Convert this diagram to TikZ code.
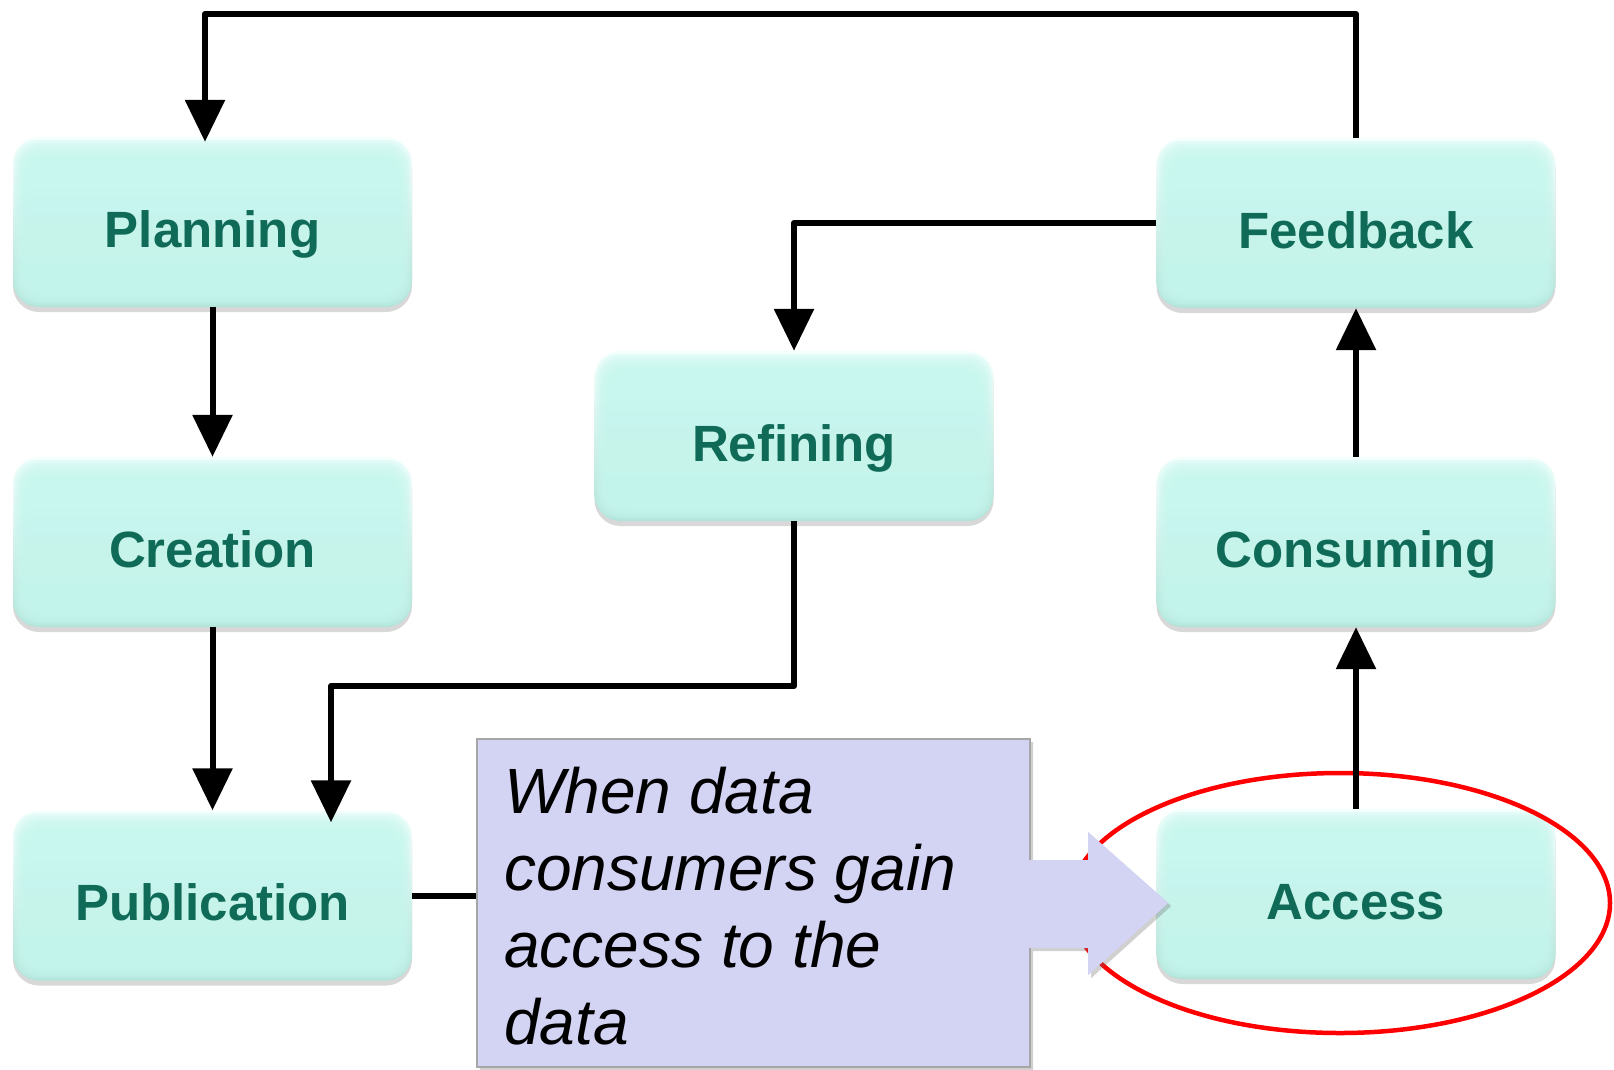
\documentclass[tikz,border=0pt]{standalone}
\usepackage{fontspec}
\setmainfont{Liberation Sans}
\usetikzlibrary{arrows.meta,shadows,calc}

\definecolor{boxmint}{HTML}{C6F7EE}
\definecolor{boxedge}{HTML}{B2E4DA}
\definecolor{boxtop}{HTML}{F4FFFD}
\definecolor{labelgreen}{HTML}{0F6B57}
\definecolor{notefill}{HTML}{D3D3F3}
\definecolor{noteline}{HTML}{A6A6A6}

\tikzset{
  stage/.style={
    rounded corners=26pt, minimum width=399pt, minimum height=170pt, inner sep=0pt,
    top color=boxtop, bottom color=boxedge,
    drop shadow={shadow xshift=0pt, shadow yshift=-5pt, opacity=0.25, fill=black!60},
    path picture={
      \foreach \i in {1,...,7} {
        \fill[boxmint, opacity=0.32, rounded corners=22pt]
          ([shift={(2*\i pt,-3*\i pt)}]path picture bounding box.north west) rectangle
          ([shift={(-2*\i pt,2*\i pt)}]path picture bounding box.south east);
      }},
    font=\fontsize{51}{60}\selectfont\bfseries, text=labelgreen,
    text height=50.5pt, text depth=0pt},
  flow/.style={line width=6pt, line join=round, -{Triangle[length=42pt,width=39pt]}},
  notebox/.style={minimum width=553pt, minimum height=328pt, inner sep=0pt},
  notetext/.style={font=\fontsize{64}{77}\selectfont\itshape, align=left, inner sep=0pt},
}

\begin{document}
\begin{tikzpicture}[x=1pt,y=-1pt]
  \useasboundingbox (0,0) rectangle (1614,1069);
  \fill[white] (0,0) rectangle (1614,1069);

  % lifecycle stages
  \node[stage] (Planning)    at (212.5,222) {Planning};
  \node[stage] (Creation)    at (212.5,542) {Creation};
  \node[stage] (Publication) at (212.5,895.5) {Publication};
  \node[stage] (Refining)    at (794,436)   {Refining};
  \node[stage] (Feedback)    at (1356,223)  {Feedback};
  \node[stage] (Consuming)   at (1356,542)  {Consuming};
  \node[stage] (Access)      at (1356,894)  {Access};

  % highlight ring around the access stage
  \draw[red, line width=4.5pt] (1340,903) ellipse [x radius=270pt, y radius=130pt];

  % flow between stages
  \draw[flow] (Planning) -- (Creation);
  \draw[flow] (Creation) -- (Publication);
  \draw[flow] (Access) -- (Consuming);
  \draw[flow] (Consuming) -- (Feedback);
  \draw[flow] (Feedback.west) -| (Refining.north);

  \coordinate (loopR) at (1356,14);
  \coordinate (loopL) at (205,14);
  \draw[flow, shorten >=-5pt] (Feedback.north) -- (loopR) -- (loopL) -- ([xshift=-7.5pt]Planning.north);

  \coordinate (bend) at (331,686);
  \draw[flow, shorten >=-12pt] (Refining.south) |- (bend) -- (bend |- Publication.north);

  % explanatory callout
  \node[notebox] (note) at (753.5,903) {};
  \draw[line width=6pt] (Publication.east) -- (Publication.east -| note.west);

  \fill[notefill, drop shadow={shadow xshift=3pt, shadow yshift=-3pt, opacity=0.3, fill=black!60}]
    (note.north west) -- (note.north east) -- ($(note.east)+(0,-43)$) -- ($(note.east)+(58,-43)$)
    -- ($(note.east)+(58,-71)$) -- ($(note.east)+(138,0)$) -- ($(note.east)+(58,72)$)
    -- ($(note.east)+(58,45)$) -- ($(note.east)+(0,45)$) -- (note.south east)
    -- (note.south west) -- cycle;
  \draw[noteline, line width=2.5pt]
    ($(note.east)+(0,-43)$) -- (note.north east) -- (note.north west)
    -- (note.south west) -- (note.south east) -- ($(note.east)+(0,45)$);

  % the base anchor of a multi-line node sits on its last line
  \node[notetext, anchor=base west] (notetext) at (504,1044)
    {When data\\consumers gain\\access to the\\data};
\end{tikzpicture}
\end{document}
